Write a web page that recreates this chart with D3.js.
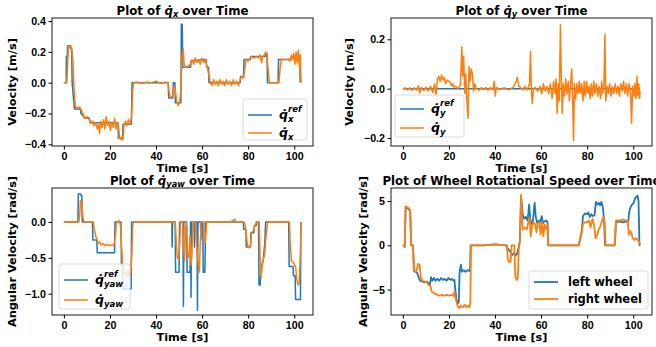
<!DOCTYPE html>
<html>
<head>
<meta charset="utf-8">
<script src="https://cdn.jsdelivr.net/npm/d3@7"></script>
<style>
  body { margin: 0; background: #fff; }
  svg { font-family: "DejaVu Sans", sans-serif; font-weight: bold; }
</style>
</head>
<body>
<svg id="chart" width="656" height="347"></svg>
<script>
// --- data (time [s], value) ---
const xTicks = [0, 20, 40, 60, 80, 100];

const qxRef = [[0,0],[1.0,0],[1.1,0.17],[1.5,0.17],[1.6,0.24],[2.8,0.24],[3.0,0.22],[3.4,0.22],[3.6,0.0],[4.6,-0.17],[7.2,-0.17],[7.4,-0.2],[8.6,-0.22],[9.0,-0.23],[11.0,-0.23],[11.3,-0.26],[23.5,-0.26],[23.7,-0.36],[25.5,-0.36],[25.7,-0.27],[29.3,-0.27],[29.6,0],[45.3,0],[45.5,-0.1],[47.3,-0.1],[47.5,0],[48.2,0],[48.4,-0.13],[50.8,-0.13],[51.0,0.38],[51.4,0.38],[51.6,0.1],[55.0,0.1],[55.2,0.14],[60,0.15],[61.8,0.15],[62.0,0.1],[62.8,0.1],[63.0,0],[76.5,0],[76.7,0.04],[78.0,0.04],[78.2,0.15],[81.0,0.15],[81.2,0.17],[87.5,0.17],[87.7,0.19],[88.2,0.19],[88.4,0],[93.0,0],[93.2,0.15],[98.3,0.15],[98.5,0.16],[100,0.17],[102.4,0.17],[102.6,0]];
const qxMeas = [[0,0],[1.3,0],[1.6,0.1],[2.0,0.24],[2.5,0.23],[3.0,0.24],[3.5,0.21],[3.9,0.15],[4.3,0],[4.8,-0.12],[5.2,-0.17],[6,-0.16],[7,-0.16],[7.6,-0.18],[8.3,-0.2],[9,-0.23],[10,-0.22],[11,-0.24],[11.6,-0.26],[12.5,-0.25],[13,-0.28],[13.8,-0.26],[14.5,-0.3],[15,-0.27],[15.5,-0.33],[16,-0.25],[16.6,-0.29],[17.2,-0.24],[17.8,-0.3],[18.4,-0.22],[19,-0.28],[19.6,-0.25],[20.2,-0.31],[20.8,-0.26],[21.4,-0.29],[22,-0.23],[22.6,-0.3],[23.2,-0.26],[23.8,-0.29],[24.2,-0.36],[24.8,-0.37],[25.3,-0.35],[25.7,-0.37],[26.1,-0.28],[26.7,-0.25],[27.3,-0.28],[28,-0.24],[28.7,-0.27],[29.4,-0.22],[29.9,-0.05],[30.3,0.0],[32,0.005],[34,-0.005],[36,0.005],[38,0],[40,0.01],[42,-0.005],[44,0.005],[45.2,0],[45.7,-0.06],[46.3,-0.1],[47,-0.09],[47.8,-0.02],[48.4,-0.05],[49,-0.12],[49.6,-0.15],[50.2,-0.13],[50.8,-0.05],[51.3,0.17],[51.8,0.22],[52.2,0.12],[53,0.1],[54,0.11],[55,0.12],[55.6,0.15],[56.4,0.12],[57,0.16],[57.8,0.13],[58.5,0.15],[59.2,0.12],[60,0.16],[60.8,0.13],[61.5,0.15],[62.2,0.1],[63,0.05],[63.6,0],[64.3,-0.02],[65,0.02],[65.7,-0.01],[66.4,0.01],[67,-0.02],[67.7,0.02],[68.4,-0.01],[69,0.01],[69.8,-0.02],[70.5,0.02],[71.2,-0.01],[72,0.01],[72.8,-0.02],[73.5,0.02],[74.2,-0.01],[75,0.01],[75.8,-0.02],[76.5,0.02],[77.2,0.04],[78,0.03],[78.6,0.1],[79.2,0.15],[80,0.14],[80.8,0.16],[81.5,0.17],[82.5,0.16],[83.5,0.17],[84.5,0.16],[85.2,0.18],[85.8,0.13],[86.4,0.17],[87,0.18],[87.6,0.2],[88,0.18],[88.6,0.1],[89.2,0],[92,0],[93.4,0],[93.9,0.1],[94.5,0.15],[96,0.15],[97.5,0.15],[98.3,0.14],[98.8,0.18],[99.3,0.15],[99.8,0.19],[100.3,0.12],[100.8,0.2],[101.3,0.13],[101.8,0.21],[102.2,0.1],[102.6,0.18],[103,0]];

const qyRef = [[0,0],[103,0]];
const qyMeas = [[0,0],[1,0.003],[2,-0.005],[3,0.004],[4,-0.006],[5,0.004],[6,-0.005],[6.8,0.012],[7.3,-0.018],[8,0.005],[9,-0.008],[10,0.006],[11,-0.01],[12,0.01],[13,-0.015],[13.8,0.02],[14.4,-0.03],[15,0.04],[15.6,0.05],[16.2,0.03],[16.8,0.055],[17.4,0.035],[18,0.045],[18.6,0.02],[19.2,0.035],[19.8,0.03],[20.4,0.028],[21,0.012],[21.6,0.02],[22.2,0.005],[23,0.01],[24,0.0],[25,0.015],[25.6,0.17],[26.0,0.05],[26.4,0.13],[26.9,-0.02],[27.3,0.06],[27.8,-0.05],[28.3,-0.12],[28.7,0.09],[29.2,0.03],[29.7,0.08],[30.2,0.06],[30.7,-0.01],[31.2,0.02],[32,0],[33,-0.006],[34,0.004],[35,-0.004],[36,0.005],[37,-0.006],[38,0.005],[39,-0.004],[39.7,0.03],[40.1,-0.03],[40.6,0.005],[42,-0.004],[44,0.004],[46,-0.005],[48,0.006],[49.2,0.03],[49.7,0.045],[50.3,0.01],[51,0.005],[52,-0.005],[53,0.01],[54,-0.005],[55,0.02],[55.4,0.15],[55.8,-0.01],[56.2,-0.06],[56.7,0.0],[57.5,0.005],[58.5,-0.01],[59.5,0.01],[60.3,-0.02],[61,0.02],[61.8,-0.01],[62.5,0.01],[63.3,-0.02],[64,0.02],[64.8,-0.04],[65.4,0.03],[66,-0.02],[66.5,0.04],[67,-0.1],[67.4,0.02],[67.9,-0.05],[68.4,0.26],[68.8,0.04],[69.2,-0.1],[69.6,0.02],[70.1,-0.03],[70.7,0.04],[71.2,-0.02],[71.8,0.03],[72.3,-0.05],[72.8,0.02],[73.3,0.08],[73.7,-0.04],[74.1,-0.21],[74.5,0.02],[75,-0.04],[75.5,0.02],[76,-0.02],[76.6,0.03],[77.1,-0.02],[77.6,0.02],[78.2,-0.05],[78.7,0.03],[79.2,-0.03],[79.8,0.03],[80.3,-0.02],[80.8,0.01],[81.3,-0.04],[81.8,0.02],[82.3,-0.03],[82.9,0.03],[83.4,-0.02],[84,0.02],[84.6,-0.03],[85.2,0.01],[85.8,-0.04],[86.3,0.03],[86.8,-0.02],[87.3,0.02],[87.7,0.22],[88.1,-0.05],[88.6,0.01],[89.2,-0.02],[89.8,0.02],[90.4,-0.03],[91,0.01],[91.6,-0.02],[92.2,0.02],[92.8,-0.02],[93.4,0.01],[94,-0.03],[94.6,0.02],[95.2,-0.01],[95.8,0.03],[96.4,-0.02],[97,0.02],[97.6,-0.03],[98.2,0.02],[98.8,-0.01],[99.3,-0.14],[99.7,0.01],[100.2,-0.03],[100.7,0.02],[101.2,-0.04],[101.6,0.05],[102,-0.03],[102.4,0.02],[102.8,-0.04],[103,-0.01]];

const yawRef = [[0,0],[6.1,0],[6.3,0.39],[7.3,0.39],[7.5,0.37],[7.8,0.37],[8.0,0],[12.4,0],[12.6,-0.25],[14.3,-0.25],[14.5,-0.43],[22.0,-0.43],[22.2,0],[24.8,0],[25.0,-0.6],[25.4,-0.6],[25.6,-0.93],[29.2,-0.93],[29.4,0],[46.9,0],[47.0,-0.35],[47.2,0],[48.3,0],[48.5,-0.7],[50.0,-0.7],[50.2,0],[51.7,0],[51.9,-1.18],[52.1,0],[53.3,0],[53.5,-0.7],[54.8,-0.7],[55.0,0],[55.2,-1.05],[55.4,0],[56.5,0],[56.7,-0.35],[56.9,0],[57.8,0],[58.0,-1.23],[58.2,0],[59.3,0],[59.5,-0.25],[59.7,0],[60.3,0],[60.5,-0.7],[61.2,-0.7],[61.4,-0.3],[61.6,0],[77.9,0],[78.1,-0.1],[79.0,-0.1],[79.2,-0.35],[81.0,-0.35],[81.2,-0.15],[82.5,-0.15],[82.7,-0.05],[83.5,-0.05],[83.7,0],[84.5,0],[84.7,-0.88],[85.2,-0.88],[85.4,-0.75],[86.0,-0.58],[86.5,-0.55],[87.2,-0.3],[87.6,0],[97.6,0],[97.8,-0.62],[99.5,-0.62],[99.7,-0.75],[100.4,-0.75],[100.6,-1.08],[102.7,-1.08],[102.9,0]];
const yawMeas = [[0,0],[5,0.005],[6.5,0],[6.9,0.1],[7.2,0.3],[7.6,0.28],[8.0,0.15],[8.5,0.02],[9.2,0],[10,0.005],[12.8,0],[13.2,-0.1],[13.8,-0.2],[14.4,-0.24],[15,-0.3],[15.6,-0.28],[16.2,-0.32],[17,-0.3],[17.8,-0.33],[18.6,-0.31],[19.4,-0.33],[20.2,-0.32],[21,-0.33],[21.8,-0.31],[22.4,-0.2],[22.8,-0.02],[23.4,0],[24,0.02],[24.6,-0.05],[25,-0.3],[25.5,-0.6],[26,-0.73],[26.6,-0.7],[27.2,-0.76],[27.8,-0.68],[28.4,-0.75],[29,-0.72],[29.5,-0.45],[29.9,-0.05],[30.3,0],[35,0.005],[40,0],[45,0.005],[48.4,0],[48.8,-0.3],[49.3,-0.5],[49.8,-0.52],[50.3,-0.3],[50.6,0],[51.5,0],[52.0,-0.3],[52.4,-0.55],[52.8,-0.1],[53.2,0],[53.6,-0.4],[54.2,-0.5],[54.8,-0.2],[55.2,-0.6],[55.6,-0.45],[56.0,0],[57.0,0],[57.6,-0.3],[58.2,-0.55],[58.8,-0.7],[59.2,-0.3],[59.6,0],[60.8,0],[61.2,-0.3],[61.6,-0.2],[62,0],[65,0.005],[70,-0.005],[73,0.01],[74.2,0.04],[74.8,0],[78.2,0],[78.8,-0.05],[79.6,-0.3],[80.3,-0.36],[81,-0.34],[81.5,-0.15],[82.3,-0.12],[83,-0.05],[83.6,0],[84.8,0],[85.2,-0.5],[85.6,-0.78],[86.1,-0.6],[86.6,-0.52],[87.2,-0.45],[87.6,-0.25],[88.1,-0.1],[88.5,0],[95,0.005],[97.9,0],[98.3,-0.3],[98.8,-0.55],[99.5,-0.56],[100.1,-0.6],[100.6,-0.62],[101.1,-0.8],[101.7,-0.88],[102.2,-0.85],[102.7,-0.4],[103,0]];

const leftWheel = [[0,0],[0.5,0],[0.8,-0.2],[1.2,4.3],[2,4.2],[2.8,4.0],[3.2,3.8],[3.6,0],[4.4,0],[4.8,-2.9],[5.5,-3.0],[6.2,-3.1],[6.8,-3.6],[7.5,-4.0],[8.5,-4.1],[9.5,-4.2],[10.5,-4.1],[11.2,-4.3],[11.8,-4.4],[12.2,-3.6],[12.8,-4.0],[13.5,-3.7],[14.2,-4.0],[15,-3.8],[15.8,-4.0],[16.6,-3.7],[17.4,-3.9],[18.2,-3.8],[19,-4.0],[19.8,-3.7],[20.6,-3.9],[21.4,-3.8],[22,-4.0],[22.4,-3.9],[22.6,-4.6],[23.2,-6.0],[23.8,-6.6],[24.3,-6.4],[24.6,-3.0],[25.2,-2.2],[25.6,-3.0],[26.4,-2.8],[27.2,-3.0],[28,-2.8],[28.8,-2.9],[29.2,-2.7],[29.4,0],[35,0],[40,0.1],[44.8,0],[45.2,-0.3],[46,-0.5],[46.8,-0.8],[47.4,-1.1],[48.2,-0.9],[48.8,-1.2],[49.5,-1.0],[50.2,-0.3],[50.8,0.5],[51.3,5.5],[51.7,4.5],[52,3.5],[52.6,3.0],[53.4,3.2],[54.2,2.8],[54.8,4.6],[55.3,3.0],[55.8,2.4],[56.4,2.6],[57.2,4.8],[57.7,3.2],[58.3,2.5],[59,2.8],[59.6,2.6],[60.3,3.3],[60.8,2.5],[61.5,2.7],[62.3,2.8],[62.8,2.6],[63.1,0],[70,0],[76.4,0],[77,0.8],[77.6,1.5],[78.2,3.3],[79,3.6],[79.8,3.5],[80.5,3.7],[81.2,3.2],[81.8,3.5],[82.5,3.3],[83.2,3.4],[83.8,4.9],[84.4,4.6],[85,4.8],[85.6,4.5],[86.2,4.9],[86.8,4.3],[87.3,3.0],[87.8,0],[92,0],[92.5,2.6],[94,2.7],[95.5,2.6],[97,2.7],[97.8,2.6],[98.3,3.8],[98.8,4.3],[99.5,4.6],[100.2,4.8],[100.8,5.3],[101.4,5.5],[101.9,5.6],[102.3,5.0],[102.7,0],[103,0]];
const rightWheel = [[0,0],[0.5,0],[0.8,-0.2],[1.2,4.4],[2,4.3],[2.8,4.1],[3.2,3.9],[3.6,0],[4.4,0],[4.8,-2.9],[5.5,-3.0],[6.2,-2.6],[6.6,-2.1],[7.3,-2.2],[7.8,-3.7],[8.5,-4.0],[9.5,-4.1],[10.5,-4.2],[11.3,-4.5],[12,-4.6],[12.5,-5.2],[13.2,-5.3],[14,-5.5],[15,-5.6],[16,-5.7],[17,-5.6],[18,-5.7],[19,-5.6],[20,-5.7],[21,-5.6],[22,-5.7],[22.4,-5.2],[22.7,-5.8],[23.2,-6.3],[23.8,-6.9],[24.5,-7.1],[25.2,-6.8],[26,-7.0],[26.8,-6.7],[27.5,-7.0],[28.2,-6.8],[28.9,-7.0],[29.3,-6.5],[29.6,0],[35,0],[40,0.1],[45.2,0],[45.5,-1.5],[46.2,-1.9],[46.8,-1.8],[47.2,0],[48.4,0],[48.8,-3.5],[49.4,-3.9],[49.9,-3.7],[50.3,-0.5],[50.8,0.5],[51.3,5.7],[51.7,3.0],[52.1,1.8],[53,2.0],[53.8,1.8],[54.4,2.5],[55,3.1],[55.5,1.0],[56,2.0],[56.6,2.6],[57.4,2.4],[58,1.5],[58.5,2.5],[59.2,2.6],[59.8,1.2],[60.4,2.6],[61,1.0],[61.5,2.3],[62.2,1.8],[62.8,2.4],[63.2,0],[70,0],[76.4,0],[77,0.8],[77.6,1.5],[78.2,2.4],[79,2.6],[80,2.6],[80.8,2.8],[81.5,2.0],[82.3,3.0],[83,2.3],[83.6,0.8],[84.4,1.2],[85,1.8],[85.8,2.2],[86.4,2.7],[87,3.2],[87.6,2.6],[88.0,0],[92,0],[92.5,2.8],[94,2.8],[95.5,2.9],[97,2.8],[97.6,2.7],[98.1,1.2],[98.6,1.6],[99.2,1.4],[99.8,0.8],[100.5,0.6],[101.2,0.8],[102,0.6],[102.6,0.4],[103,0]];

const BLUE = '#1f77b4', ORANGE = '#ff7f0e';
const TICK_FS = 10.7, LAB_FS = 11.3, TITLE_FS = 11.8, LEG_FS = 11.5;

const svg = d3.select('#chart');

// q-dot with stacked sub/superscript, kept inside one <text>
function mathQ(g, x, y, sub, sup, fs) {
  const t = g.append('text').attr('x', x).attr('y', y).attr('font-size', fs).attr('font-style', 'italic');
  t.append('tspan').text('q\u0307');
  const s = t.append('tspan').attr('font-size', fs * 0.68).attr('dy', fs * 0.25).text(sub);
  if (sup) {
    const w = s.node().getComputedTextLength();
    t.append('tspan').attr('font-size', fs * 0.68).attr('dx', -w).attr('dy', -fs * 0.8).text(sup);
  }
}

function panel(p) {
  const g = svg.append('g');
  const x = d3.scaleLinear().domain([-5.15, 108.15]).range([p.left, p.right]);
  const y = d3.scaleLinear().domain(p.yDomain).range([p.bottom, p.top]);

  const fmt = p.yFmt;
  g.append('g').attr('transform', `translate(0,${p.bottom})`)
    .call(d3.axisBottom(x).tickValues(xTicks).tickSize(3.5).tickPadding(2.5).tickFormat(d3.format('d')))
    .call(a => a.select('.domain').remove())
    .call(a => a.selectAll('text').attr('font-size', TICK_FS).attr('font-family', null).attr('fill', '#000'));
  g.append('g').attr('transform', `translate(${p.left},0)`)
    .call(d3.axisLeft(y).tickValues(p.yTicks).tickSize(3.5).tickPadding(2.5).tickFormat(d => fmt(d).replace('-', '\u2212')))
    .call(a => a.select('.domain').remove())
    .call(a => a.selectAll('text').attr('font-size', TICK_FS).attr('font-family', null).attr('fill', '#000'));

  const line = d3.line().x(d => x(d[0])).y(d => y(d[1]));
  p.series.forEach(s => {
    g.append('path').datum(s.data).attr('d', line)
      .attr('fill', 'none').attr('stroke', s.color).attr('stroke-width', p.lw || 1.5)
      .attr('stroke-linejoin', 'round');
  });

  g.append('rect').attr('x', p.left).attr('y', p.top)
    .attr('width', p.right - p.left).attr('height', p.bottom - p.top)
    .attr('fill', 'none').attr('stroke', '#000').attr('stroke-width', 0.9);

  // title
  const t = g.append('text').attr('x', (p.left + p.right) / 2).attr('y', p.top - 3.5)
    .attr('text-anchor', 'middle').attr('font-size', TITLE_FS);
  p.title(t);

  g.append('text').attr('x', (p.left + p.right) / 2).attr('y', p.bottom + 25.5)
    .attr('text-anchor', 'middle').attr('font-size', LAB_FS).text('Time [s]');
  g.append('text').attr('transform', `translate(${p.ylabX},${(p.top + p.bottom) / 2}) rotate(-90)`)
    .attr('text-anchor', 'middle').attr('font-size', LAB_FS).text(p.ylabel);

  // legend
  const L = p.legend;
  g.append('rect').attr('x', L.x).attr('y', L.y).attr('width', L.w).attr('height', L.h)
    .attr('rx', 2.5).attr('fill', 'rgba(255,255,255,0.8)').attr('stroke', '#d0d0d0').attr('stroke-width', 0.8);
  L.rows.forEach((r, i) => {
    const ry = L.rowY[i];
    g.append('line').attr('x1', L.x + 5).attr('x2', L.x + 29).attr('y1', ry).attr('y2', ry)
      .attr('stroke', p.series[i].color).attr('stroke-width', p.lw || 1.5);
    if (typeof r === 'string') {
      g.append('text').attr('x', L.x + 39).attr('y', ry + 4).attr('font-size', LEG_FS).text(r);
    } else {
      mathQ(g, L.x + 36, ry + 4, r.sub, r.sup, LEG_FS + 1);
    }
  });
}

function titleQ(sub) {
  return t => {
    t.append('tspan').text('Plot of ');
    t.append('tspan').attr('font-style', 'italic').text('q\u0307');
    t.append('tspan').attr('font-style', 'italic').attr('font-size', TITLE_FS * 0.7).attr('dy', 2.5).text(sub);
    t.append('tspan').attr('dy', -2.5).text(' over Time');
  };
}

panel({
  left: 52, right: 313, top: 18, bottom: 146,
  yDomain: [-0.411, 0.42], yTicks: [-0.4, -0.2, 0, 0.2, 0.4], yFmt: d3.format('.1f'),
  series: [{data: qxRef, color: BLUE}, {data: qxMeas, color: ORANGE}],
  title: titleQ('x'), ylabel: 'Velocity [m/s]', ylabX: 16,
  legend: {x: 243, y: 99, w: 64, h: 41, rowY: [115, 133], rows: [{sub: 'x', sup: 'ref'}, {sub: 'x'}]}
});
panel({
  left: 391, right: 652, top: 18, bottom: 146,
  yDomain: [-0.232, 0.286], yTicks: [-0.2, 0, 0.2], yFmt: d3.format('.1f'),
  series: [{data: qyRef, color: BLUE}, {data: qyMeas, color: ORANGE}],
  title: titleQ('y'), ylabel: 'Velocity [m/s]', ylabX: 353,
  legend: {x: 395, y: 95, w: 69, h: 42, rowY: [109, 128], rows: [{sub: 'y', sup: 'ref'}, {sub: 'y'}]}
});
panel({
  left: 52, right: 313, top: 188, bottom: 315,
  yDomain: [-1.297, 0.474], yTicks: [-1.0, -0.5, 0], yFmt: d3.format('.1f'),
  series: [{data: yawRef, color: BLUE}, {data: yawMeas, color: ORANGE}],
  title: titleQ('yaw'), ylabel: 'Angular Velocity [rad/s]', ylabX: 16,
  legend: {x: 59, y: 264, w: 71, h: 45, rowY: [280, 300], rows: [{sub: 'yaw', sup: 'ref'}, {sub: 'yaw'}]}
});
panel({
  left: 391, right: 652, top: 188, bottom: 315, lw: 1.8,
  yDomain: [-7.87, 6.47], yTicks: [-5, 0, 5], yFmt: d3.format('d'),
  series: [{data: leftWheel, color: BLUE}, {data: rightWheel, color: ORANGE}],
  title: t => t.text('Plot of Wheel Rotational Speed over Time'), ylabel: 'Angular Velocity [rad/s]', ylabX: 367,
  legend: {x: 529, y: 271, w: 119, h: 38, rowY: [282, 299], rows: ['left wheel', 'right wheel']}
});
</script>
</body>
</html>
